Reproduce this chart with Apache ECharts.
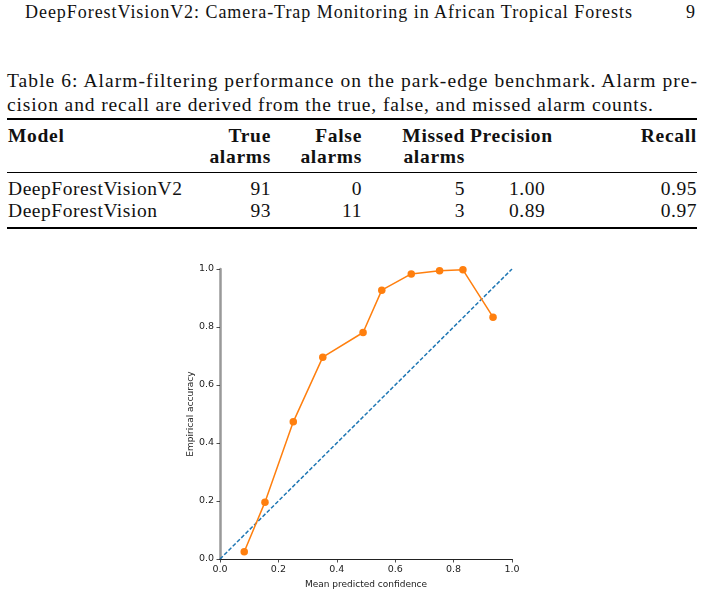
<!DOCTYPE html>
<html>
<head>
<meta charset="utf-8">
<script src="https://cdn.jsdelivr.net/npm/echarts@6/dist/echarts.min.js"></script>
<style>
  html, body { margin: 0; padding: 0; background: #fff; }
  body { width: 705px; height: 595px; position: relative; overflow: hidden; font-family: "Liberation Serif", serif; color: #111; }
  .t { position: absolute; white-space: nowrap; line-height: 1; }
  .cap { font-size: 19.5px; letter-spacing: 0.55px; }
  .b { font-weight: bold; letter-spacing: 0.7px; }
  .r { text-align: right; }
  .rule { position: absolute; left: 7px; width: 690px; background: #000; }
  #chart { position: absolute; left: 0; top: 240px; width: 705px; height: 355px; }
</style>
</head>
<body>
<div class="t fit" data-w="607" style="left:25px; top:3px; font-size:18px;">DeepForestVisionV2: Camera-Trap Monitoring in African Tropical Forests</div>
<div class="t" style="left:686px; top:3px; font-size:18px;">9</div>

<div class="t cap fit" data-w="690" style="left:7px; top:71px;">Table 6: Alarm-filtering performance on the park-edge benchmark. Alarm pre-</div>
<div class="t cap fit" data-w="646" style="left:7px; top:95px;">cision and recall are derived from the true, false, and missed alarm counts.</div>

<div class="rule" style="top:118px; height:2px;"></div>
<div class="rule" style="top:172px; height:1px;"></div>
<div class="rule" style="top:227px; height:2px;"></div>

<div id="table"></div>
<div id="chart"></div>

<script>
// ---- table data ----
var tableModels = ["DeepForestVisionV2", "DeepForestVision"];
var trueAlarms = [91, 93];
var falseAlarms = [0, 11];
var missedAlarms = [5, 3];
var precisionVals = ["1.00", "0.89"];
var recallVals = ["0.95", "0.97"];

// ---- chart data ----
var confX = [0.083, 0.154, 0.251, 0.352, 0.490, 0.554, 0.655, 0.752, 0.832, 0.935];
var accY  = [0.025, 0.196, 0.473, 0.696, 0.781, 0.927, 0.983, 0.994, 0.997, 0.834];
var diagX = [0, 1];
var diagY = [0, 1];
var tickVals = [0, 0.2, 0.4, 0.6, 0.8, 1.0];

// fit text lines to their measured widths in the reference
(function () {
  var els = document.querySelectorAll('.fit');
  for (var i = 0; i < els.length; i++) {
    var el = els[i];
    el.style.letterSpacing = '0px';
    var w = el.getBoundingClientRect().width;
    var target = parseFloat(el.getAttribute('data-w'));
    var n = el.textContent.length - 1;
    el.style.letterSpacing = ((target - w) / n) + 'px';
  }
})();

// build table text
(function () {
  var tb = document.getElementById('table');
  function add(txt, style, cls) {
    var d = document.createElement('div');
    d.className = 't cap ' + (cls || '');
    d.setAttribute('style', style);
    d.textContent = txt;
    tb.appendChild(d);
  }
  add('Model', 'left:8px; top:126px;', 'b');
  add('True', 'right:434px; top:126px;', 'b r');
  add('alarms', 'right:434px; top:147px;', 'b r');
  add('False', 'right:343px; top:126px;', 'b r');
  add('alarms', 'right:343px; top:147px;', 'b r');
  add('Missed', 'right:240px; top:126px;', 'b r');
  add('alarms', 'right:240px; top:147px;', 'b r');
  add('Precision', 'left:470px; top:126px;', 'b');
  add('Recall', 'right:8px; top:126px;', 'b r');
  var tops = [179, 201];
  for (var i = 0; i < tableModels.length; i++) {
    var tp = 'top:' + tops[i] + 'px;';
    add(tableModels[i], 'left:8px;' + tp);
    add(String(trueAlarms[i]), 'right:434px;' + tp, 'r');
    add(String(falseAlarms[i]), 'right:343px;' + tp, 'r');
    add(String(missedAlarms[i]), 'right:240px;' + tp, 'r');
    add(precisionVals[i], 'left:509px;' + tp);
    add(recallVals[i], 'right:8px;' + tp, 'r');
  }
})();

var chart = echarts.init(document.getElementById('chart'), null, { renderer: 'canvas' });
var fontFam = 'DejaVu Sans';
var tickMin = tickVals[0], tickMax = tickVals[tickVals.length - 1], tickStep = tickVals[1] - tickVals[0];
function fmt(v) { return v.toFixed(1); }

chart.setOption({
  animation: false,
  grid: { left: 220, top: 29, width: 292, height: 290, containLabel: false },
  xAxis: [{
    type: 'value', min: tickMin, max: tickMax, interval: tickStep,
    name: 'Mean predicted confidence', nameLocation: 'middle', nameGap: 21,
    nameTextStyle: { fontFamily: fontFam, fontSize: 9, color: '#222' },
    axisLine: { show: true, onZero: false, lineStyle: { color: '#222', width: 1 } },
    axisTick: { show: true, inside: false, length: 3.5, lineStyle: { color: '#222', width: 0.8 } },
    axisLabel: { fontFamily: fontFam, fontSize: 9.5, color: '#222', margin: 6, formatter: fmt },
    splitLine: { show: false }
  }, {
    type: 'value', position: 'top', min: tickMin, max: tickMax,
    axisLine: { show: true, lineStyle: { color: '#222', width: 1 } },
    axisTick: { show: false }, axisLabel: { show: false }, splitLine: { show: false }
  }],
  yAxis: [{
    type: 'value', min: tickMin, max: tickMax, interval: tickStep,
    name: 'Empirical accuracy', nameLocation: 'middle', nameGap: 25, nameRotate: 90,
    nameTextStyle: { fontFamily: fontFam, fontSize: 9, color: '#222' },
    axisLine: { show: true, onZero: false, lineStyle: { color: '#222', width: 1 } },
    axisTick: { show: true, inside: false, length: 3.5, lineStyle: { color: '#222', width: 0.8 } },
    axisLabel: { fontFamily: fontFam, fontSize: 9.5, color: '#222', margin: 6, formatter: fmt },
    splitLine: { show: false }
  }, {
    type: 'value', position: 'right', min: tickMin, max: tickMax,
    axisLine: { show: true, lineStyle: { color: '#999', width: 2.5 } },
    axisTick: { show: false }, axisLabel: { show: false }, splitLine: { show: false }
  }],
  series: [{
    type: 'line', name: 'diagonal',
    data: diagX.map(function (x, i) { return [x, diagY[i]]; }),
    showSymbol: false, symbol: 'none',
    lineStyle: { color: '#1f77b4', width: 1.5, type: [4, 2] },
    z: 2
  }, {
    type: 'line', name: 'model',
    data: confX.map(function (x, i) { return [x, accY[i]]; }),
    symbol: 'circle', symbolSize: 7.5, showSymbol: true,
    itemStyle: { color: '#ff7f0e', borderWidth: 0 },
    lineStyle: { color: '#ff7f0e', width: 1.5 },
    clip: false,
    z: 3
  }]
});
</script>
</body>
</html>
